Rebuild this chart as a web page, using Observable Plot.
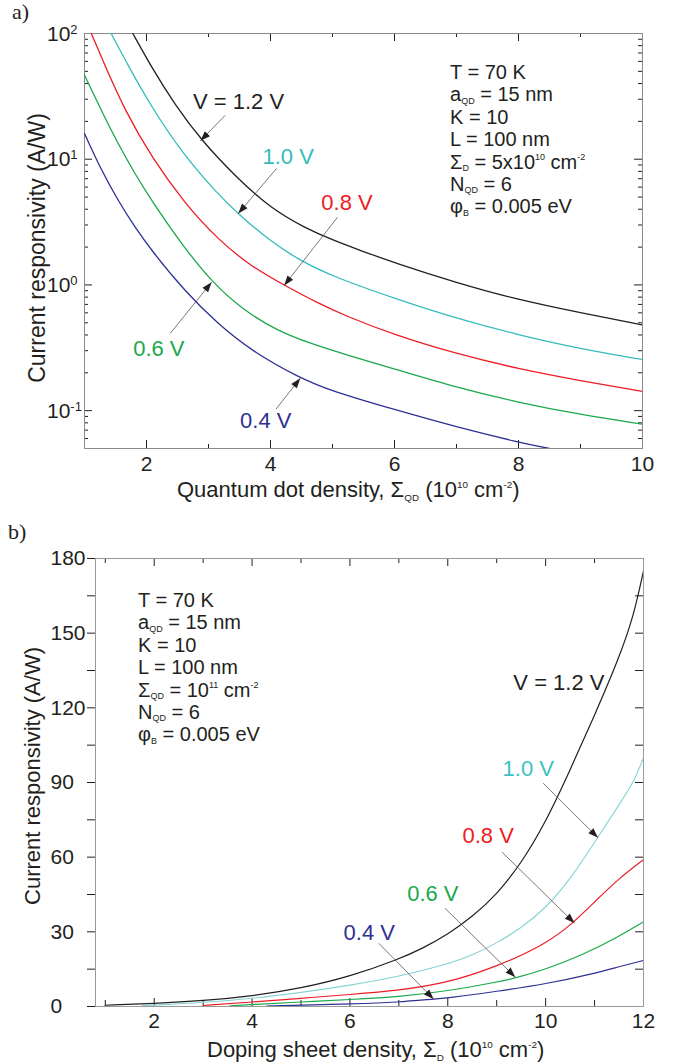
<!DOCTYPE html>
<html>
<head>
<meta charset="utf-8">
<script src="https://cdn.jsdelivr.net/npm/d3@7"></script>
<script src="https://cdn.jsdelivr.net/npm/@observablehq/plot@0.6"></script>
<style>
  body { margin: 0; background: #fff; }
  #wrap { position: relative; width: 686px; height: 1063px; overflow: hidden; }
  .panel { position: absolute; left: 0; }
  .tag { position: absolute; font-family: 'Liberation Serif', 'Times New Roman', serif; font-size: 22px; line-height: 22px; color: #231f20; }
</style>
</head>
<body>
<div id="wrap">
  <div class="panel" id="pa" style="top:0px"></div>
  <div class="panel" id="pb" style="top:510px"></div>
  <div class="tag" style="left:12px;top:1px">a)</div>
  <div class="tag" style="left:8px;top:521px">b)</div>
</div>
<script>
const FONT = "'Liberation Sans', Arial, Helvetica, sans-serif";
const INK = "#231f20";

// ---------- Panel a: responsivity vs quantum dot density (log y) ----------
const aV12 = [[1.78,100],[2.08,54],[2.45,27.5],[2.88,14.2],[3.47,7.0],[4.01,4.05],[4.55,2.85],[5.0,2.28],[5.45,1.88],[6,1.50],[7,1.04],[8,0.76],[9,0.60],[10,0.48]];
const aV10 = [[1.43,100],[1.70,56],[2.08,26],[2.61,10.6],[3.15,5.3],[3.47,3.7],[4.01,2.2],[4.49,1.55],[5,1.17],[6,0.78],[7,0.54],[8,0.40],[9,0.31],[10,0.255]];
const aV08 = [[1.11,100],[1.32,57],[1.65,24.5],[2.08,10.4],[2.61,4.5],[3.15,2.3],[3.69,1.4],[4.23,0.99],[4.76,0.72],[5.2,0.57],[6,0.40],[7,0.283],[8,0.215],[9,0.173],[10,0.142]];
const aV06 = [[1,46.7],[1.27,24.5],[1.54,13.3],[1.81,7.7],[2.08,4.71],[2.51,2.3],[3.05,1.05],[3.58,0.62],[4.12,0.43],[4.66,0.34],[5.2,0.28],[6,0.215],[7,0.153],[8,0.116],[9,0.093],[10,0.078]];
const aV04 = [[1,16],[1.27,8.2],[1.54,4.71],[1.81,2.89],[2.08,1.88],[2.61,0.90],[3.15,0.49],[3.69,0.30],[4.44,0.185],[5,0.142],[6,0.102],[7,0.074],[8,0.056],[8.5,0.05]];

const aLabels = [
  {text: "V = 1.2 V", x: 2.75, y: 28.4, color: "#231f20"},
  {text: "1.0 V", x: 3.87, y: 10.4, color: "#33bcbc"},
  {text: "0.8 V", x: 4.82, y: 4.46, color: "#ed1c24"},
  {text: "0.6 V", x: 1.785, y: 0.312, color: "#1aa84b"},
  {text: "0.4 V", x: 3.51, y: 0.083, color: "#2e3192"}
];
const aArrows = [
  {x1: 3.27, y1: 22.4, x2: 2.87, y2: 14.0},
  {x1: 4.10, y1: 8.47, x2: 3.48, y2: 3.7},
  {x1: 5.08, y1: 3.45, x2: 4.22, y2: 0.99},
  {x1: 2.385, y1: 0.413, x2: 3.05, y2: 1.05},
  {x1: 4.09, y1: 0.103, x2: 4.48, y2: 0.181}
];
const aXTicks = [2, 4, 6, 8, 10];
const aXMinor = [3, 5, 7, 9];
const aYTicks = [{v: 100, e: "2"}, {v: 10, e: "1"}, {v: 1, e: "0"}, {v: 0.1, e: "-1"}];
const aYMinorMult = [2, 3, 4, 5, 6, 7, 8, 9];
const aParams = [
  [["T = 70 K"]],
  [["a"], ["QD", "sub"], [" = 15 nm"]],
  [["K = 10"]],
  [["L = 100 nm"]],
  [["Σ"], ["D", "sub"], [" = 5x10"], ["10", "sup"], [" cm"], ["-2", "sup"]],
  [["N"], ["QD", "sub"], [" = 6"]],
  [["φ"], ["B", "sub"], [" = 0.005 eV"]]
];
const aXTitle = [["Quantum dot density, Σ"], ["QD", "sub"], [" (10"], ["10", "sup"], [" cm"], ["-2", "sup"], [")"]];

// ---------- Panel b: responsivity vs doping sheet density (linear y) ----------
const bV12 = [[1,0.5],[2,1.2],[3,2.3],[4,4.2],[5,7.3],[6,12],[7,19],[7.5,23.5],[8,29],[8.5,36],[9,45],[9.5,57.5],[10,74],[10.5,95],[11,117],[11.5,140],[11.8,157],[12,175]];
const bV10 = [[1.75,0.3],[2,0.5],[3,1.6],[4,3.2],[5,5.6],[6,8.5],[7,12],[8,17],[8.5,20.5],[9,25.5],[9.5,31.5],[10,39.5],[10.5,51],[11,66],[11.5,81],[11.8,90],[12,100]];
const bV08 = [[3,0.4],[4,1.8],[5,3.3],[6,4.8],[7,6.4],[8,9.5],[9,16],[10,25],[10.56,33.5],[11,42],[11.5,51.5],[12,59]];
const bV06 = [[3.55,0.3],[4,0.8],[5,1.8],[6,2.8],[7,3.9],[8,6.2],[9,9.8],[9.34,11.2],[10,14.9],[10.77,20.9],[11.45,27.6],[12,34]];
const bV04 = [[4.3,0.2],[5,0.5],[6,1.0],[7,1.7],[7.71,3.0],[8,3.4],[9,6.1],[10,9.0],[11,13.3],[11.5,16],[12,18.5]];

const bLabels = [
  {text: "V = 1.2 V", x: 9.34, y: 129.8, color: "#231f20"},
  {text: "1.0 V", x: 9.12, y: 95.6, color: "#3ec1c1"},
  {text: "0.8 V", x: 8.30, y: 68.7, color: "#ed1c24"},
  {text: "0.6 V", x: 7.17, y: 45.4, color: "#1aa84b"},
  {text: "0.4 V", x: 5.87, y: 29.7, color: "#2e3192"}
];
const bArrows = [
  {x1: 9.95, y1: 89.7, x2: 11.07, y2: 67.8},
  {x1: 9.11, y1: 62.0, x2: 10.59, y2: 33.5},
  {x1: 7.94, y1: 39.5, x2: 9.38, y2: 11.8},
  {x1: 6.59, y1: 25.4, x2: 7.71, y2: 3.0}
];
const bXTicks = [2, 4, 6, 8, 10, 12];
const bXMinor = [1, 3, 5, 7, 9, 11];
const bYTicks = [0, 15, 30, 45, 60, 75, 90, 105, 120, 135, 150, 165, 180];
const bParams = [
  [["T = 70 K"]],
  [["a"], ["QD", "sub"], [" = 15 nm"]],
  [["K = 10"]],
  [["L = 100 nm"]],
  [["Σ"], ["QD", "sub"], [" = 10"], ["11", "sup"], [" cm"], ["-2", "sup"]],
  [["N"], ["QD", "sub"], [" = 6"]],
  [["φ"], ["B", "sub"], [" = 0.005 eV"]]
];
const bXTitle = [["Doping sheet density, Σ"], ["D", "sub"], [" (10"], ["10", "sup"], [" cm"], ["-2", "sup"], [")"]];
const yTitle = [["Current responsivity (A/W)"]];

// ---------- helpers ----------
const rows = arr => arr.map(([x, y]) => ({x, y}));
const head = {draw(ctx) { ctx.moveTo(0, 0); ctx.lineTo(3.6, 10); ctx.lineTo(-3.6, 10); ctx.closePath(); }};
function withAngles(arrows, sx, sy) {
  return arrows.map(a => {
    const dx = sx.apply(a.x2) - sx.apply(a.x1), dy = sy.apply(a.y2) - sy.apply(a.y1);
    return {...a, angle: Math.atan2(dx, -dy) * 180 / Math.PI};
  });
}
// Multi-line rich text in ONE <text> element (sub/superscripts as tspans).
function richBlock(svg, x, y, lines, {size = 22, fill = INK, anchor = "start", rotate = 0, small = 0.45, lineHeight = 0, subShift = 0.12, supShift = 0.42} = {}) {
  const t = d3.select(svg).append("text")
    .attr("x", x).attr("y", y)
    .attr("font-family", FONT).attr("font-size", size)
    .attr("fill", fill).attr("text-anchor", anchor)
    .style("white-space", "pre");
  if (rotate) t.attr("transform", `rotate(${rotate} ${x} ${y})`);
  let cur = 0;
  lines.forEach((parts, i) => {
    parts.forEach(([s, k], j) => {
      const off = k === "sub" ? size * subShift : k === "sup" ? -size * supShift : 0;
      const sp = t.append("tspan");
      if (j === 0 && i > 0) sp.attr("x", x).attr("dy", lineHeight + off - cur);
      else sp.attr("dy", off - cur);
      sp.text(s);
      if (k) sp.attr("font-size", size * small);
      cur = off;
    });
  });
  return t;
}

const W = 686;

// ---------- Panel a ----------
{
  const H = 510, m = {top: 33, right: 44, bottom: 62, left: 84};
  const fw = W - m.left - m.right, fh = H - m.top - m.bottom;
  const sx = Plot.scale({x: {domain: [1, 10], range: [m.left, W - m.right]}});
  const sy = Plot.scale({y: {type: "log", domain: [0.05, 100], range: [H - m.bottom, m.top]}});
  const arrows = withAngles(aArrows, sx, sy);
  const yMinor = aYMinorMult.flatMap(k => [0.01, 0.1, 1, 10].map(d => k * d)).filter(v => v >= 0.05 && v <= 100);
  const lw = 1.3, cv = "basis";
  const svg = Plot.plot({
    width: W, height: H,
    marginTop: m.top, marginRight: m.right, marginBottom: m.bottom, marginLeft: m.left,
    x: {domain: [1, 10], label: null},
    y: {type: "log", domain: [0.05, 100], axis: null},
    style: {fontFamily: FONT, fontSize: "21px", color: INK, background: "transparent"},
    marks: [
      Plot.tickX(aXTicks, {x: d => d, insetTop: fh - 8, stroke: INK}),
      Plot.tickX(aXTicks, {x: d => d, insetBottom: fh - 8, stroke: INK}),
      Plot.tickX(aXMinor, {x: d => d, insetTop: fh - 4, stroke: INK}),
      Plot.tickX(aXMinor, {x: d => d, insetBottom: fh - 4, stroke: INK}),
      Plot.tickY(aYTicks, {y: "v", insetRight: fw - 8, stroke: INK}),
      Plot.tickY(aYTicks, {y: "v", insetLeft: fw - 8, stroke: INK}),
      Plot.tickY(yMinor, {y: d => d, insetRight: fw - 4, stroke: INK}),
      Plot.tickY(yMinor, {y: d => d, insetLeft: fw - 4, stroke: INK}),
      Plot.frame({stroke: "#8a8a8a"}),
      Plot.line(rows(aV04), {x: "x", y: "y", stroke: "#2e3192", strokeWidth: lw, curve: cv, clip: true}),
      Plot.line(rows(aV06), {x: "x", y: "y", stroke: "#1aa84b", strokeWidth: lw, curve: cv, clip: true}),
      Plot.line(rows(aV08), {x: "x", y: "y", stroke: "#ed1c24", strokeWidth: lw, curve: cv, clip: true}),
      Plot.line(rows(aV10), {x: "x", y: "y", stroke: "#33bcbc", strokeWidth: lw, curve: cv, clip: true}),
      Plot.line(rows(aV12), {x: "x", y: "y", stroke: "#231f20", strokeWidth: lw, curve: cv, clip: true}),
      Plot.link(arrows, {x1: "x1", y1: "y1", x2: "x2", y2: "y2", stroke: "#555", strokeWidth: 0.8}),
      Plot.dot(arrows, {x: "x2", y: "y2", symbol: head, r: 4, rotate: "angle", fill: INK, stroke: "none"}),
      Plot.text(aLabels, {x: "x", y: "y", text: "text", fill: d => d.color, textAnchor: "start", lineAnchor: "middle", fontSize: 22}),
      Plot.axisX({ticks: aXTicks, tickSize: 0, tickPadding: 8, label: null, fontSize: 21})
    ]
  });
  // log tick labels 10^n, positioned with the plot's own y scale
  aYTicks.forEach(t => richBlock(svg, 47, sy.apply(t.v) + 7.5, [[["10"], [t.e, "sup"]]], {size: 21, small: 0.62, supShift: 0.32}));
  richBlock(svg, 450, 79, aParams, {size: 20, lineHeight: 22.4});
  richBlock(svg, 177, 497, [aXTitle], {size: 22, subShift: 0.2});
  richBlock(svg, 45, 248, [yTitle], {size: 23, anchor: "middle", rotate: -90});
  document.getElementById("pa").append(svg);
}

// ---------- Panel b ----------
{
  const H = 553, m = {top: 48, right: 43, bottom: 57, left: 95};
  const fw = W - m.left - m.right, fh = H - m.top - m.bottom;
  const sx = Plot.scale({x: {domain: [0.8, 12], range: [m.left, W - m.right]}});
  const sy = Plot.scale({y: {domain: [0, 180], range: [H - m.bottom, m.top]}});
  const arrows = withAngles(bArrows, sx, sy);
  const cv = "basis";
  const svg = Plot.plot({
    width: W, height: H,
    marginTop: m.top, marginRight: m.right, marginBottom: m.bottom, marginLeft: m.left,
    x: {domain: [0.8, 12], label: null},
    y: {domain: [0, 180], label: null},
    style: {fontFamily: FONT, fontSize: "21px", color: INK, background: "transparent"},
    marks: [
      Plot.tickX(bXTicks, {x: d => d, insetTop: fh - 8, stroke: INK}),
      Plot.tickX(bXTicks, {x: d => d, insetBottom: fh - 8, stroke: INK}),
      Plot.tickX(bXMinor, {x: d => d, insetTop: fh - 6, stroke: INK}),
      Plot.tickX(bXMinor, {x: d => d, insetBottom: fh - 5, stroke: INK}),
      Plot.tickY(bYTicks, {y: d => d, insetLeft: fw - 8, stroke: INK}),
      Plot.frame({stroke: "#9a9a9a"}),
      Plot.line(rows(bV04), {x: "x", y: "y", stroke: "#2e3192", strokeWidth: 1.2, curve: cv, clip: true}),
      Plot.line(rows(bV06), {x: "x", y: "y", stroke: "#1aa84b", strokeWidth: 1.2, curve: cv, clip: true}),
      Plot.line(rows(bV08), {x: "x", y: "y", stroke: "#ed1c24", strokeWidth: 1.2, curve: cv, clip: true}),
      Plot.line(rows(bV10), {x: "x", y: "y", stroke: "#86d3d3", strokeWidth: 1.1, curve: cv, clip: true}),
      Plot.line(rows(bV12), {x: "x", y: "y", stroke: "#231f20", strokeWidth: 1.2, curve: cv, clip: true}),
      Plot.link(arrows, {x1: "x1", y1: "y1", x2: "x2", y2: "y2", stroke: "#555", strokeWidth: 0.8}),
      Plot.dot(arrows, {x: "x2", y: "y2", symbol: head, r: 4, rotate: "angle", fill: INK, stroke: "none"}),
      Plot.text(bLabels, {x: "x", y: "y", text: "text", fill: d => d.color, textAnchor: "start", lineAnchor: "middle", fontSize: 22}),
      Plot.axisX({ticks: bXTicks, tickSize: 0, tickPadding: 7, label: null, fontSize: 21}),
      Plot.axisY({ticks: bYTicks, tickSize: 8, tickPadding: 37, textAnchor: "start", tickFormat: d => d % 30 ? "" : String(d), label: null, fontSize: 21})
    ]
  });
  richBlock(svg, 138, 97, bParams, {size: 20, lineHeight: 22.4});
  richBlock(svg, 207, 547, [bXTitle], {size: 22, subShift: 0.2});
  richBlock(svg, 40, 266, [yTitle], {size: 22, anchor: "middle", rotate: -90});
  document.getElementById("pb").append(svg);
}
</script>
</body>
</html>
